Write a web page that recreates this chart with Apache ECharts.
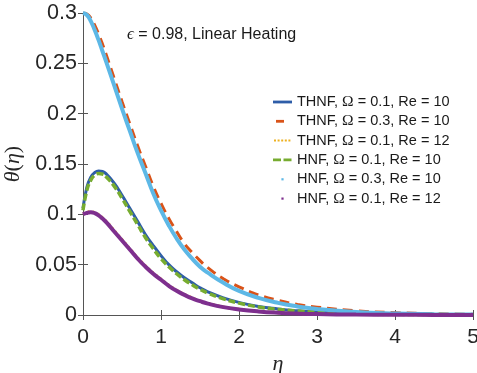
<!DOCTYPE html>
<html>
<head>
<meta charset="utf-8">
<script src="https://cdn.jsdelivr.net/npm/echarts@6/dist/echarts.min.js"></script>
<style>html,body{margin:0;padding:0;background:#fff;}#c{width:477px;height:373px;}</style>
</head>
<body>
<div id="c"></div>
<script>
const eta = [0,0.05,0.1,0.15,0.2,0.25,0.3,0.4,0.5,0.6,0.7,0.8,0.9,1.0,1.1,1.2,1.3,1.4,1.5,1.6,1.8,2.0,2.25,2.5,2.75,3.0,3.5,4.0,4.5,5.0];
const thnfO1Re10 = [0.106,0.127,0.137,0.1415,0.143,0.1425,0.140,0.131,0.119,0.106,0.093,0.080,0.069,0.059,0.050,0.043,0.037,0.032,0.027,0.023,0.017,0.0125,0.0085,0.006,0.0042,0.003,0.0015,0.0008,0.0004,0.0002];
const thnfO3Re10 = [0.300,0.299,0.295,0.288,0.279,0.269,0.258,0.235,0.212,0.190,0.168,0.148,0.128,0.111,0.096,0.083,0.071,0.062,0.054,0.047,0.036,0.028,0.020,0.0145,0.0105,0.0078,0.0042,0.0023,0.0013,0.0007];
const thnfO1Re12 = [0.1005,0.102,0.1025,0.1018,0.0997,0.0965,0.0928,0.0838,0.0748,0.0658,0.0568,0.0488,0.0417,0.0356,0.0296,0.0245,0.0204,0.0169,0.014,0.0116,0.008,0.0057,0.0036,0.0023,0.0015,0.001,0.0005,0.00025,0.00012,0.00006];
const hnfO1Re10 = [0.104,0.124,0.134,0.139,0.1405,0.140,0.137,0.128,0.116,0.103,0.090,0.077,0.066,0.056,0.048,0.041,0.035,0.030,0.0255,0.0218,0.016,0.0118,0.008,0.0056,0.004,0.0028,0.0014,0.0007,0.0004,0.0002];
const hnfO3Re10 = [0.300,0.298,0.292,0.283,0.273,0.262,0.251,0.228,0.205,0.183,0.161,0.141,0.121,0.104,0.089,0.076,0.065,0.056,0.048,0.042,0.032,0.024,0.017,0.012,0.0085,0.006,0.003,0.0015,0.0008,0.0004];
const hnfO1Re12 = [0.100,0.1015,0.102,0.1012,0.099,0.0958,0.092,0.083,0.074,0.065,0.056,0.048,0.041,0.035,0.029,0.024,0.020,0.0165,0.0137,0.0113,0.0078,0.0055,0.0035,0.0022,0.0014,0.0009,0.0004,0.0002,0.0001,0.00005];
const seriesNames = ['THNF, Ω = 0.1, Re = 10','THNF, Ω = 0.3, Re = 10','THNF, Ω = 0.1, Re = 12','HNF, Ω = 0.1, Re = 10','HNF, Ω = 0.3, Re = 10','HNF, Ω = 0.1, Re = 12'];
const xTicks = [0,1,2,3,4,5];
const yTicks = [0,0.05,0.1,0.15,0.2,0.25,0.3];

const colors = ['#2E5DA8','#D95319','#EDB120','#77AC30','#5DB8E6','#7E2F8E'];
const values = [thnfO1Re10,thnfO3Re10,thnfO1Re12,hnfO1Re10,hnfO3Re10,hnfO1Re12];
const lineTypes = ['solid',[10,6],[2,3],[7,3],'solid','solid'];
const widths = [3,3,3,3.5,4,4];

const chart = echarts.init(document.getElementById('c'), null, {renderer:'canvas'});
const axisColor = '#555';
const tickFont = 'Liberation Sans, Arial, sans-serif';
const B = 'path://M0,0M19,14';
const legendIcons = [
  B + 'M0,5.6h19v2.8h-19z',
  B + 'M3,5.6h8v2.8h-8z',
  B + 'M1,6h2v2h-2zM4.6,6h2v2h-2zM8.2,6h2v2h-2zM11.8,6h2v2h-2zM15.4,6h2v2h-2z',
  B + 'M0,5.6h8v2.8h-8zM10.5,5.6h8v2.8h-8z',
  B + 'M8.4,6h2.2v2.2h-2.2z',
  B + 'M8.4,6h2.2v2.2h-2.2z'
];

const series = values.map((v,i)=>({
  name: seriesNames[i],
  type:'line',
  data: eta.map((x,j)=>[x,v[j]]),
  showSymbol:false,
  symbol:'none',
  smooth:0.5,
  color: colors[i],
  lineStyle:{color:colors[i], width:widths[i], type:lineTypes[i]},
  xAxisIndex:0, yAxisIndex:0,
  z: 2+i
}));

const legendData = seriesNames.map((n,i)=>({name:n, icon:legendIcons[i], itemStyle:{color:colors[i], borderWidth:0}}));

const axisCommon = {
  axisLine:{show:true, lineStyle:{color:axisColor, width:1}},
  axisTick:{show:true, inside:true, length:5, lineStyle:{color:axisColor}},
  splitLine:{show:false}
};

chart.setOption({
  animation:false,
  backgroundColor:'#fff',
  grid:{left:83, right:4, top:13, bottom:58, containLabel:false, outerBoundsMode:'none'},
  title:{
    text:'{e|ϵ} = 0.98, Linear Heating',
    left:122, top:21,
    textStyle:{fontFamily:tickFont, fontSize:16, fontWeight:'normal', color:'#1a1a1a',
      rich:{e:{fontFamily:'Liberation Serif, serif', fontStyle:'italic', fontSize:17, color:'#1a1a1a'}}}
  },
  legend:{
    orient:'vertical', left:273, top:94, padding:0,
    itemWidth:19, itemHeight:14, itemGap:3.3,
    data:legendData,
    formatter: n => n.replace('Ω','{o|Ω}'),
    textStyle:{fontFamily:tickFont, fontSize:14.5, color:'#1a1a1a', lineHeight:14,
      rich:{o:{fontFamily:'Liberation Serif, serif', fontSize:15.5, color:'#1a1a1a'}}},
    selectedMode:false
  },
  xAxis:[
    Object.assign({type:'value', min:0, max:5, interval:1, position:'bottom',
      axisLabel:{show:true, fontFamily:tickFont, fontSize:21, color:'#262626', margin:12,
        formatter: v => xTicks.includes(v) ? String(v) : ''},
      name:'η', nameLocation:'middle', nameGap:32,
      nameTextStyle:{fontFamily:'Liberation Serif, serif', fontStyle:'italic', fontSize:22, color:'#262626'}
    }, axisCommon),
    Object.assign({type:'value', min:0, max:5, interval:1, position:'top', axisLabel:{show:false}}, axisCommon)
  ],
  yAxis:[
    Object.assign({type:'value', min:0, max:0.3, interval:0.05, position:'left',
      axisLabel:{show:true, fontFamily:tickFont, fontSize:21.5, color:'#262626', margin:6,
        formatter: v => { const t = yTicks.find(y=>Math.abs(y-v)<1e-9); return t===undefined ? '' : String(t); }},
      name:'{i|θ}({i|η})', nameLocation:'middle', nameGap:46, nameRotate:90,
      nameTextStyle:{fontFamily:'Liberation Serif, serif', fontSize:22, color:'#262626',
        rich:{i:{fontFamily:'Liberation Serif, serif', fontStyle:'italic', fontSize:22, color:'#262626'}}}
    }, axisCommon),
    Object.assign({type:'value', min:0, max:0.3, interval:0.05, position:'right', axisLabel:{show:false}}, axisCommon)
  ],
  series: series
});
</script>
</body>
</html>
